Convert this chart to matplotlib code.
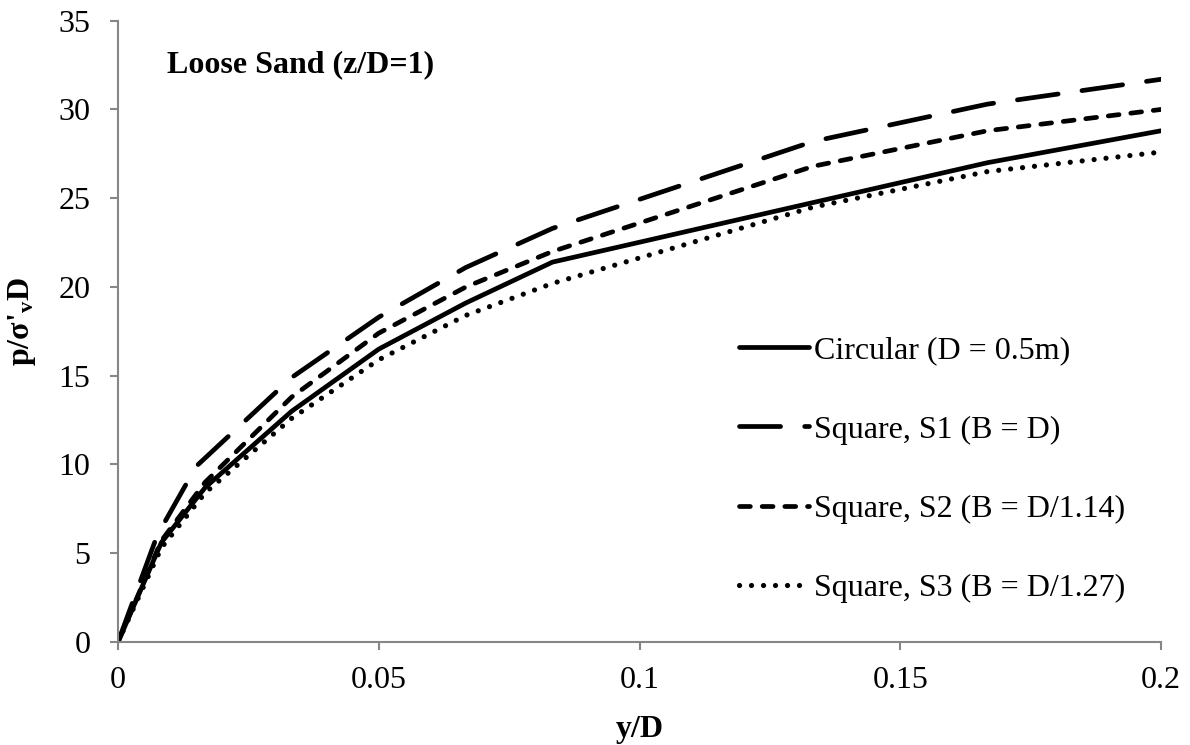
import matplotlib
matplotlib.use("Agg")
import matplotlib.pyplot as plt

# p/sigma'v D versus y/D, loose sand, z/D = 1
circ_x = [0, 0.0083, 0.0167, 0.0333, 0.05, 0.0667, 0.0833, 0.1667, 0.2]
circ_y = [0, 5.6, 8.7, 13.0, 16.5, 19.1, 21.4, 27.0, 28.8]

s1_x = [0, 0.0075, 0.015, 0.0333, 0.05, 0.0667, 0.0833, 0.1333, 0.1667, 0.2]
s1_y = [0, 6.0, 9.9, 14.9, 18.3, 21.1, 23.3, 28.2, 30.3, 31.7]

s2_x = [0, 0.0083, 0.0167, 0.0333, 0.05, 0.0667, 0.0833, 0.1333, 0.1667, 0.2]
s2_y = [0, 5.7, 9.0, 13.8, 17.4, 20.0, 22.0, 26.8, 28.8, 30.0]

s3_x = [0, 0.0083, 0.0167, 0.0333, 0.05, 0.0667, 0.0833, 0.1333, 0.1667, 0.2]
s3_y = [0, 5.3, 8.4, 12.6, 15.9, 18.4, 20.2, 24.5, 26.5, 27.6]

labels = ["Circular (D = 0.5m)", "Square, S1 (B = D)",
          "Square, S2 (B = D/1.14)", "Square, S3 (B = D/1.27)"]

plt.rcParams['font.family'] = ['Liberation Serif', 'DejaVu Serif']
plt.rcParams['mathtext.fontset'] = 'custom'
plt.rcParams['mathtext.rm'] = 'Liberation Serif'
plt.rcParams['mathtext.bf'] = 'Liberation Serif:bold'
plt.rcParams['mathtext.it'] = 'Liberation Serif:italic'

fs = 23

fig = plt.figure(figsize=(11.9, 7.45), dpi=100)
ax = fig.add_axes([0.0992, 0.1383, 0.8765, 0.8339])

lw = 3.4
ax.plot(circ_x, circ_y, color="black", lw=lw, solid_capstyle="round",
        label=labels[0])
ax.plot(s1_x, s1_y, color="black", lw=lw, dashes=(8.7, 5.1),
        dash_capstyle="round", label=labels[1])
ax.plot(s2_x, s2_y, color="black", lw=lw, dashes=(2.3, 2.5),
        dash_capstyle="round", label=labels[2])
ax.plot(s3_x, s3_y, color="black", lw=lw * 1.1, dashes=(0.01, 2.3),
        dash_capstyle="round", label=labels[3])

ax.set_xlim(0, 0.2)
ax.set_ylim(0, 35)
ax.set_xticks([0, 0.05, 0.1, 0.15, 0.2])
ax.set_xticklabels(["0", "0.05", "0.1", "0.15", "0.2"])
ax.set_yticks(range(0, 36, 5))

for side in ["top", "right"]:
    ax.spines[side].set_visible(False)
for side in ["left", "bottom"]:
    ax.spines[side].set_color("#868686")
    ax.spines[side].set_linewidth(1.5)
ax.tick_params(axis="both", direction="out", length=6, width=1.5,
               color="#868686", labelsize=fs)
ax.tick_params(axis="x", pad=11)
ax.tick_params(axis="y", pad=14)

ax.set_xlabel("y/D", fontsize=fs, fontweight="bold")
ax.xaxis.set_label_coords(0.5, -0.117)
ax.set_ylabel(r"p/σ'$_\mathbf{v}$D", fontsize=fs, fontweight="bold")
ax.yaxis.set_label_coords(-0.0767, 0.515)

ax.text(0.0094, 32.5, "Loose Sand (z/D=1)", fontsize=fs, fontweight="bold",
        va="center", ha="left")

ax.legend(loc="center left", bbox_to_anchor=(0.5954, 0.2776), frameon=False,
          fontsize=fs, handlelength=2.2, handletextpad=0.15,
          labelspacing=1.56, borderpad=0, borderaxespad=0)

plt.savefig("out.png", dpi=100)
